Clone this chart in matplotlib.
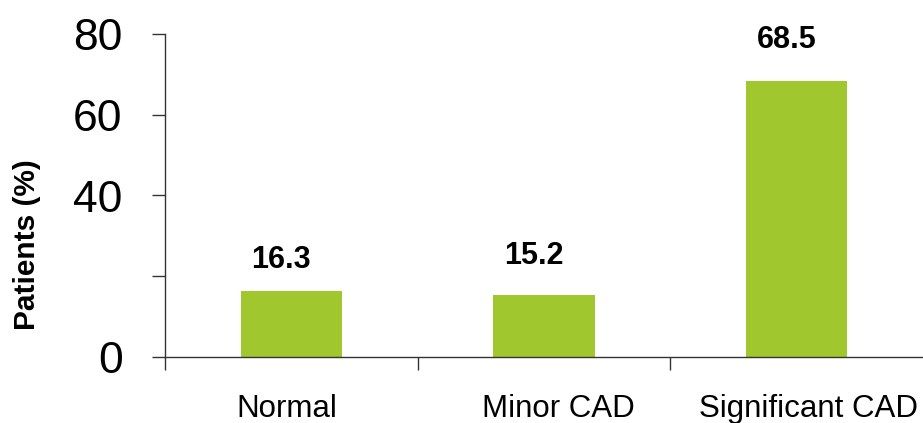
import numpy as np
import matplotlib
matplotlib.use("Agg")
from matplotlib import pyplot as plt
from matplotlib import transforms

plt.rcParams['font.family'] = ['Liberation Sans', 'DejaVu Sans']

categories = ['Normal', 'Minor CAD', 'Significant CAD']
patients_pct = [16.3, 15.2, 68.5]
y_ticks = [0, 20, 40, 60, 80]
y_tick_labels = ['0', '', '40', '60', '80']

bar_color = '#A0C72E'
line_color = '#333333'

fig = plt.figure(figsize=(9.23, 4.23), dpi=100)
ax = fig.add_axes([165 / 923, 66.3 / 423, 1 - 165 / 923, 322.4 / 423])

x = np.arange(len(categories))
ax.bar(x, patients_pct, width=0.4, color=bar_color, zorder=2)

# value labels sit a little left of centre, each with its own gap above the bar
label_gap = [7.7, 9.7, 10.0]
for xi, v, gap in zip(x, patients_pct, label_gap):
    ax.text(xi - 0.04, v + gap, f'{v:.1f}', ha='center', va='center',
            fontsize=22, fontweight='bold', color='black')

ax.set_xlim(-0.5, len(categories) - 0.5)
ax.set_ylim(0, 80)

# boundaries between categories carry the tick marks, centres carry the names
ax.set_xticks(np.arange(len(categories)) - 0.5)
ax.set_xticklabels([])
ax.set_xticks(x, minor=True)
ax.set_xticklabels(categories, minor=True, fontsize=22.5)
ax.tick_params(axis='x', which='major', direction='out', length=9.5,
               width=1.0, color=line_color)
ax.tick_params(axis='x', which='minor', length=0, pad=27)

label_shift = [-5, 14, 12]
for lab, dx in zip(ax.get_xticklabels(minor=True), label_shift):
    lab.set_transform(lab.get_transform() +
                      transforms.ScaledTranslation(dx / 100, 0, fig.dpi_scale_trans))

ax.set_yticks(y_ticks)
ax.set_yticklabels(y_tick_labels, fontsize=32)
ax.tick_params(axis='y', direction='out', length=9.5, width=1.0,
               color=line_color, pad=21)

for side in ['top', 'right']:
    ax.spines[side].set_visible(False)
for side in ['left', 'bottom']:
    ax.spines[side].set_color(line_color)
    ax.spines[side].set_linewidth(1.0)

fig.text(27 / 923, 1 - 245 / 423, 'Patients (%)', rotation=90, ha='center',
         va='center', fontsize=21.5, fontweight='bold')

fig.savefig('out.png', dpi=100)
